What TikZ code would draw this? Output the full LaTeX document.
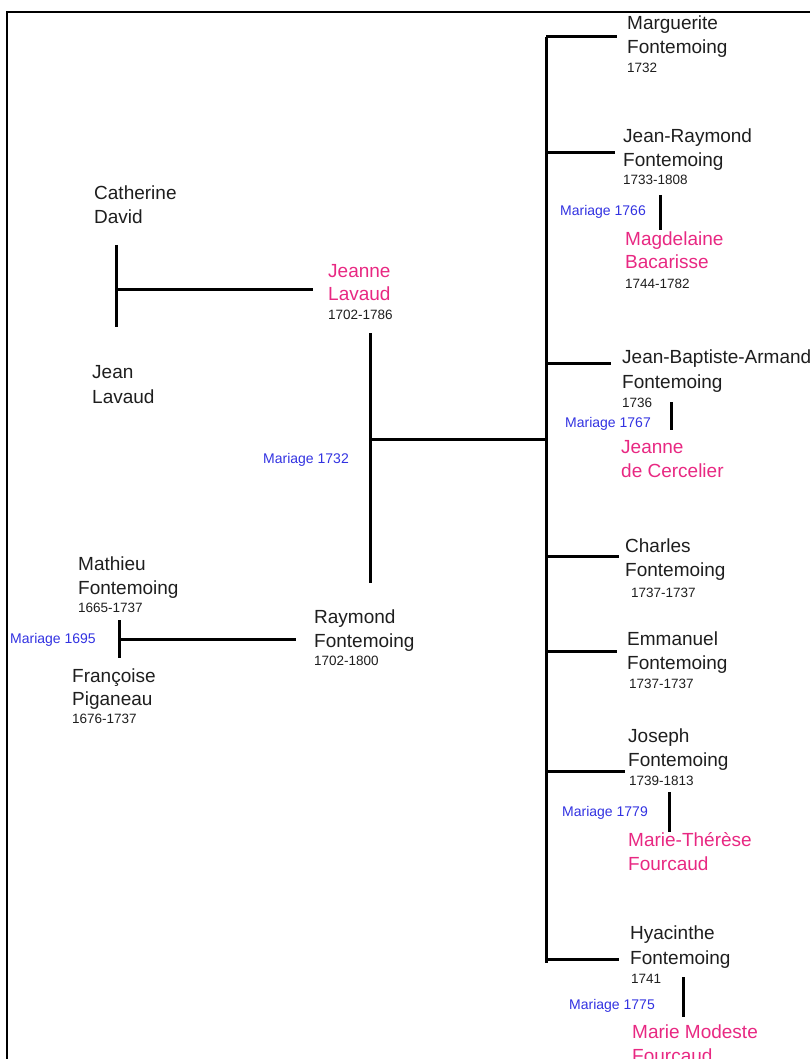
\documentclass[tikz,border=0pt]{standalone}
\usepackage{fontspec}
\setmainfont{Liberation Sans}
\definecolor{pinkname}{RGB}{232,40,130}
\definecolor{bluemar}{RGB}{50,50,225}
\definecolor{txt}{RGB}{30,30,30}
\begin{document}
\begin{tikzpicture}[x=1pt,y=-1pt,
  nm/.style={anchor=base west,inner sep=0,font=\fontsize{19}{22}\selectfont,text=txt},
  sp/.style={nm,text=pinkname},
  dt/.style={anchor=base west,inner sep=0,font=\fontsize{13.5}{16}\selectfont,text=txt},
  mar/.style={anchor=base west,inner sep=0,font=\fontsize{14}{16}\selectfont,text=bluemar},
  ln/.style={line width=3pt},
  frameline/.style={line width=2pt}]
\useasboundingbox (0,0) rectangle (809,1059);
% frame
\coordinate (fA) at (7,1070);
\coordinate (fB) at (7,12);
\coordinate (fC) at (830,12);
\draw[frameline] (fA) -- (fB) -- (fC);

% ---- grandparents Lavaud
\node[nm] (cat1) at (94,200) {Catherine};
\node[nm] (cat2) at (94,224) {David};
\node[nm] (jl1) at (92,378) {Jean};
\node[nm] (jl2) at (92,403) {Lavaud};
\coordinate (cdT) at (116,245);
\coordinate (cdB) at (116,327);
\coordinate (cdM) at (116,289);
\coordinate (cdR) at (313,289);
\draw[ln] (cdT) -- (cdB);
\draw[ln] (cdM) -- (cdR);

% ---- Jeanne Lavaud
\node[sp] (jeL1) at (328,277) {Jeanne};
\node[sp] (jeL2) at (328,300) {Lavaud};
\node[dt] (jeL3) at (328,319) {1702-1786};
\coordinate (jlT) at (370,333);
\coordinate (jlB) at (370,583);
\coordinate (jlM) at (370,439);
\coordinate (jlR) at (547,439);
\draw[ln] (jlT) -- (jlB);
\draw[ln] (jlM) -- (jlR);
\node[mar] (m1732) at (263,463) {Mariage 1732};

% ---- grandparents Fontemoing
\node[nm] (mf1) at (78,570) {Mathieu};
\node[nm] (mf2) at (78,594) {Fontemoing};
\node[dt] (mf3) at (78,612) {1665-1737};
\node[mar] (m1695) at (10,643) {Mariage 1695};
\node[nm] (fp1) at (72,682) {Françoise};
\node[nm] (fp2) at (72,705) {Piganeau};
\node[dt] (fp3) at (72,723) {1676-1737};
\coordinate (mfT) at (119,620);
\coordinate (mfB) at (119,658);
\coordinate (mfM) at (119,639);
\coordinate (mfR) at (296,639);
\draw[ln] (mfT) -- (mfB);
\draw[ln] (mfM) -- (mfR);

% ---- Raymond
\node[nm] (rf1) at (314,623) {Raymond};
\node[nm] (rf2) at (314,647) {Fontemoing};
\node[dt] (rf3) at (314,665) {1702-1800};

% ---- children trunk
\coordinate (trT) at (546,37);
\coordinate (trB) at (546,963);
\draw[ln] (trT) -- (trB);

% Marguerite
\coordinate (b1) at (546,37);
\coordinate (e1) at (617,37);
\draw[ln] (b1) -- (e1);
\node[nm] (mg1) at (627,30) {Marguerite};
\node[nm] (mg2) at (627,54) {Fontemoing};
\node[dt] (mg3) at (627,73) {1732};

% Jean-Raymond
\coordinate (b2) at (546,153);
\coordinate (e2) at (615,153);
\draw[ln] (b2) -- (e2);
\node[nm] (jr1) at (623,143) {Jean-Raymond};
\node[nm] (jr2) at (623,167) {Fontemoing};
\node[dt] (jr3) at (623,185) {1733-1808};
\coordinate (s2T) at (660,195);
\coordinate (s2B) at (660,230);
\draw[ln] (s2T) -- (s2B);
\node[mar] (m1766) at (560,216) {Mariage 1766};
\node[sp] (mb1) at (625,246) {Magdelaine};
\node[sp] (mb2) at (625,269) {Bacarisse};
\node[dt] (mb3) at (625,288) {1744-1782};

% Jean-Baptiste-Armand
\coordinate (b3) at (546,363);
\coordinate (e3) at (611,363);
\draw[ln] (b3) -- (e3);
\node[nm] (jb1) at (622,363) {Jean-Baptiste-Armand};
\node[nm] (jb2) at (622,388) {Fontemoing};
\node[dt] (jb3) at (622,407) {1736};
\coordinate (s3T) at (671,402);
\coordinate (s3B) at (671,430);
\draw[ln] (s3T) -- (s3B);
\node[mar] (m1767) at (565,427) {Mariage 1767};
\node[sp] (jc1) at (621,453) {Jeanne};
\node[sp] (jc2) at (621,477) {de Cercelier};

% Charles
\coordinate (b4) at (546,556);
\coordinate (e4) at (619,556);
\draw[ln] (b4) -- (e4);
\node[nm] (ch1) at (625,552) {Charles};
\node[nm] (ch2) at (625,576) {Fontemoing};
\node[dt] (ch3) at (631,597) {1737-1737};

% Emmanuel
\coordinate (b5) at (546,651);
\coordinate (e5) at (617,651);
\draw[ln] (b5) -- (e5);
\node[nm] (em1) at (627,645) {Emmanuel};
\node[nm] (em2) at (627,669) {Fontemoing};
\node[dt] (em3) at (629,688) {1737-1737};

% Joseph
\coordinate (b6) at (546,771);
\coordinate (e6) at (625,771);
\draw[ln] (b6) -- (e6);
\node[nm] (jo1) at (628,742) {Joseph};
\node[nm] (jo2) at (628,766) {Fontemoing};
\node[dt] (jo3) at (629,785) {1739-1813};
\coordinate (s6T) at (669,792);
\coordinate (s6B) at (669,832);
\draw[ln] (s6T) -- (s6B);
\node[mar] (m1779) at (562,816) {Mariage 1779};
\node[sp] (mt1) at (628,846) {Marie-Thérèse};
\node[sp] (mt2) at (628,870) {Fourcaud};

% Hyacinthe
\coordinate (b7) at (546,959);
\coordinate (e7) at (619,959);
\draw[ln] (b7) -- (e7);
\node[nm] (hy1) at (630,939) {Hyacinthe};
\node[nm] (hy2) at (630,964) {Fontemoing};
\node[dt] (hy3) at (631,983) {1741};
\coordinate (s7T) at (683,977);
\coordinate (s7B) at (683,1017);
\draw[ln] (s7T) -- (s7B);
\node[mar] (m1775) at (569,1009) {Mariage 1775};
\node[sp] (mm1) at (632,1038) {Marie Modeste};
\node[sp] (mm2) at (632,1062) {Fourcaud};
\end{tikzpicture}
\end{document}
